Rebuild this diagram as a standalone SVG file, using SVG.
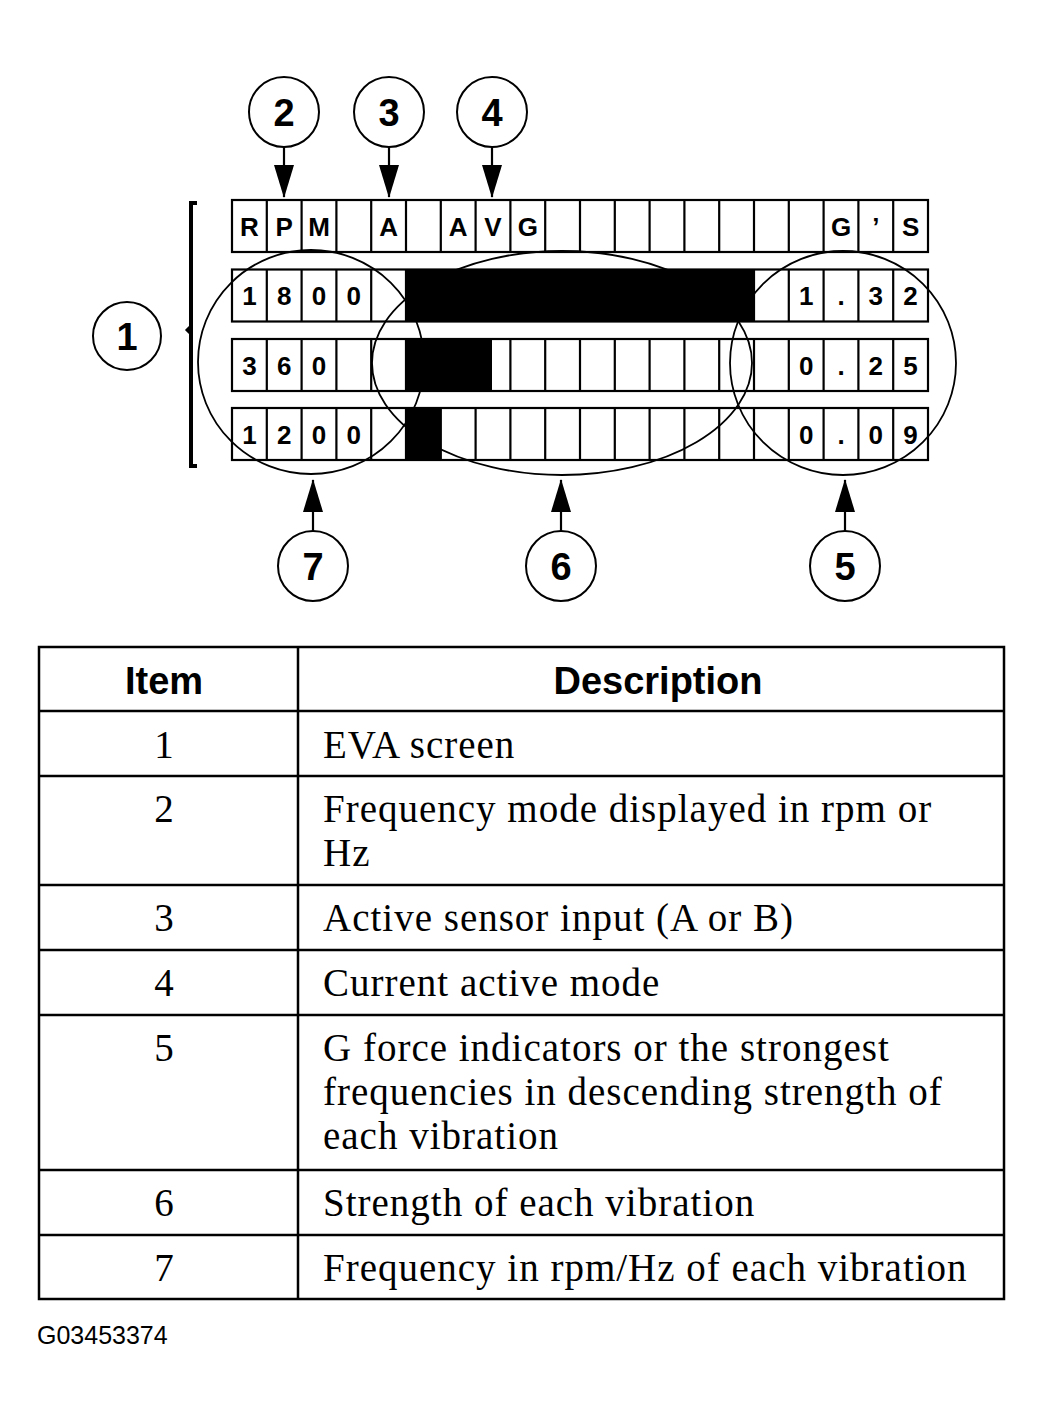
<svg xmlns="http://www.w3.org/2000/svg" xmlns:xlink="http://www.w3.org/1999/xlink" width="1044" height="1421" viewBox="0 0 1044 1421">
<style>
  .cell { fill: #fff; stroke: #000; stroke-width: 2.2; }
  .div { stroke: #000; stroke-width: 2.2; }
  .bar { fill: #000; }
  .lcd { font-family: "Liberation Sans", Arial, sans-serif; font-weight: bold; font-size: 26px; text-anchor: middle; fill: #000; }
  .ring { fill: none; stroke: #000; stroke-width: 1.8; }
  .callout { fill: #fff; stroke: #000; stroke-width: 2; }
  .num { font-family: "Liberation Sans", Arial, sans-serif; font-weight: bold; font-size: 38px; text-anchor: middle; fill: #000; }
  .conn { stroke: #000; stroke-width: 2.2; fill: none; }
  .tbl { fill: none; stroke: #000; stroke-width: 2.5; }
  .hdr { font-family: "Liberation Sans", Arial, sans-serif; font-weight: bold; font-size: 38px; text-anchor: middle; fill: #000; }
  .item { font-family: "Liberation Serif", "Times New Roman", serif; font-size: 39px; text-anchor: middle; fill: #000; }
  .desc { font-family: "Liberation Serif", "Times New Roman", serif; font-size: 39px; letter-spacing: 1px; fill: #000; }
  .cap { font-family: "Liberation Sans", Arial, sans-serif; font-size: 25px; fill: #000; }
</style>
<defs>
  <marker id="arrow" markerUnits="userSpaceOnUse" markerWidth="33" markerHeight="20" viewBox="0 0 33 20" refX="32" refY="10" orient="auto">
    <path d="M0,0 L33,10 L0,20 Z" fill="#000"/>
  </marker>
  <g id="lcdrow">
    <rect class="cell" x="232" y="0" width="696" height="52"/>
    <path class="div" d="M266.8,0V52M301.6,0V52M336.4,0V52M371.2,0V52M406,0V52M440.8,0V52M475.6,0V52M510.4,0V52M545.2,0V52M580,0V52M614.8,0V52M649.6,0V52M684.4,0V52M719.2,0V52M754,0V52M788.8,0V52M823.6,0V52M858.4,0V52M893.2,0V52"/>
  </g>
</defs>

<g id="eva-screen">
  <use xlink:href="#lcdrow" y="200"/>
  <use xlink:href="#lcdrow" y="269.5"/>
  <use xlink:href="#lcdrow" y="339"/>
  <use xlink:href="#lcdrow" y="408"/>
</g>

<g id="group-rings">
  <ellipse id="ring-7" class="ring" cx="311" cy="362" rx="113" ry="112"/>
  <ellipse id="ring-6" class="ring" cx="562" cy="363" rx="190" ry="112"/>
  <ellipse id="ring-5" class="ring" cx="843" cy="363" rx="113" ry="112"/>
</g>

<g id="bars">
  <rect class="bar" x="405" y="269.5" width="349" height="52"/>
  <rect class="bar" x="405" y="339" width="87" height="52"/>
  <rect class="bar" x="405" y="408" width="36" height="52"/>
</g>

<g id="screen-text" class="lcd">
  <text x="249.4" y="235.5">R</text>
  <text x="284.2" y="235.5">P</text>
  <text x="319" y="235.5">M</text>
  <text x="388.6" y="235.5">A</text>
  <text x="458.2" y="235.5">A</text>
  <text x="493" y="235.5">V</text>
  <text x="527.8" y="235.5">G</text>
  <text x="841" y="235.5">G</text>
  <text x="875.8" y="235.5">’</text>
  <text x="910.6" y="235.5">S</text>

  <text x="249.4" y="305">1</text>
  <text x="284.2" y="305">8</text>
  <text x="319" y="305">0</text>
  <text x="353.8" y="305">0</text>
  <text x="806.2" y="305">1</text>
  <text x="841" y="305">.</text>
  <text x="875.8" y="305">3</text>
  <text x="910.6" y="305">2</text>

  <text x="249.4" y="374.5">3</text>
  <text x="284.2" y="374.5">6</text>
  <text x="319" y="374.5">0</text>
  <text x="806.2" y="374.5">0</text>
  <text x="841" y="374.5">.</text>
  <text x="875.8" y="374.5">2</text>
  <text x="910.6" y="374.5">5</text>

  <text x="249.4" y="443.5">1</text>
  <text x="284.2" y="443.5">2</text>
  <text x="319" y="443.5">0</text>
  <text x="353.8" y="443.5">0</text>
  <text x="806.2" y="443.5">0</text>
  <text x="841" y="443.5">.</text>
  <text x="875.8" y="443.5">0</text>
  <text x="910.6" y="443.5">9</text>
</g>

<g id="bracket-1">
  <path d="M197,203 L191,203 L191,466 L197,466" fill="none" stroke="#000" stroke-width="4"/>
  <path d="M191,325 L186,330 L191,335 Z" fill="#000" stroke="#000" stroke-width="1.5"/>
</g>

<g id="connectors">
  <line class="conn" x1="284" y1="147" x2="284" y2="197" marker-end="url(#arrow)"/>
  <line class="conn" x1="389" y1="147" x2="389" y2="197" marker-end="url(#arrow)"/>
  <line class="conn" x1="492" y1="147" x2="492" y2="197" marker-end="url(#arrow)"/>
  <line class="conn" x1="313" y1="531" x2="313" y2="480" marker-end="url(#arrow)"/>
  <line class="conn" x1="561" y1="531" x2="561" y2="480" marker-end="url(#arrow)"/>
  <line class="conn" x1="845" y1="531" x2="845" y2="480" marker-end="url(#arrow)"/>
</g>

<g id="node-1"><circle class="callout" cx="127" cy="336" r="34"/><text class="num" x="127" y="350">1</text></g>
<g id="node-2"><circle class="callout" cx="284" cy="112" r="35"/><text class="num" x="284" y="126">2</text></g>
<g id="node-3"><circle class="callout" cx="389" cy="112" r="35"/><text class="num" x="389" y="126">3</text></g>
<g id="node-4"><circle class="callout" cx="492" cy="112" r="35"/><text class="num" x="492" y="126">4</text></g>
<g id="node-7"><circle class="callout" cx="313" cy="566" r="35"/><text class="num" x="313" y="580">7</text></g>
<g id="node-6"><circle class="callout" cx="561" cy="566" r="35"/><text class="num" x="561" y="580">6</text></g>
<g id="node-5"><circle class="callout" cx="845" cy="566" r="35"/><text class="num" x="845" y="580">5</text></g>

<g id="table">
  <rect class="tbl" x="39" y="647" width="965" height="652"/>
  <path class="tbl" d="M298,647V1299M39,711H1004M39,776H1004M39,885H1004M39,950H1004M39,1015H1004M39,1170H1004M39,1235H1004"/>
  <text class="hdr" x="164" y="694">Item</text>
  <text class="hdr" x="658" y="694">Description</text>

  <text class="item" x="164" y="758">1</text>
  <text class="desc" x="323" y="758">EVA screen</text>

  <text class="item" x="164" y="822">2</text>
  <text class="desc" x="323" y="822">Frequency mode displayed in rpm or</text>
  <text class="desc" x="323" y="866">Hz</text>

  <text class="item" x="164" y="931">3</text>
  <text class="desc" x="323" y="931">Active sensor input (A or B)</text>

  <text class="item" x="164" y="996">4</text>
  <text class="desc" x="323" y="996">Current active mode</text>

  <text class="item" x="164" y="1061">5</text>
  <text class="desc" x="323" y="1061">G force indicators or the strongest</text>
  <text class="desc" x="323" y="1105">frequencies in descending strength of</text>
  <text class="desc" x="323" y="1149">each vibration</text>

  <text class="item" x="164" y="1216">6</text>
  <text class="desc" x="323" y="1216">Strength of each vibration</text>

  <text class="item" x="164" y="1281">7</text>
  <text class="desc" x="323" y="1281">Frequency in rpm/Hz of each vibration</text>
</g>

<text class="cap" x="37" y="1344">G03453374</text>
</svg>
